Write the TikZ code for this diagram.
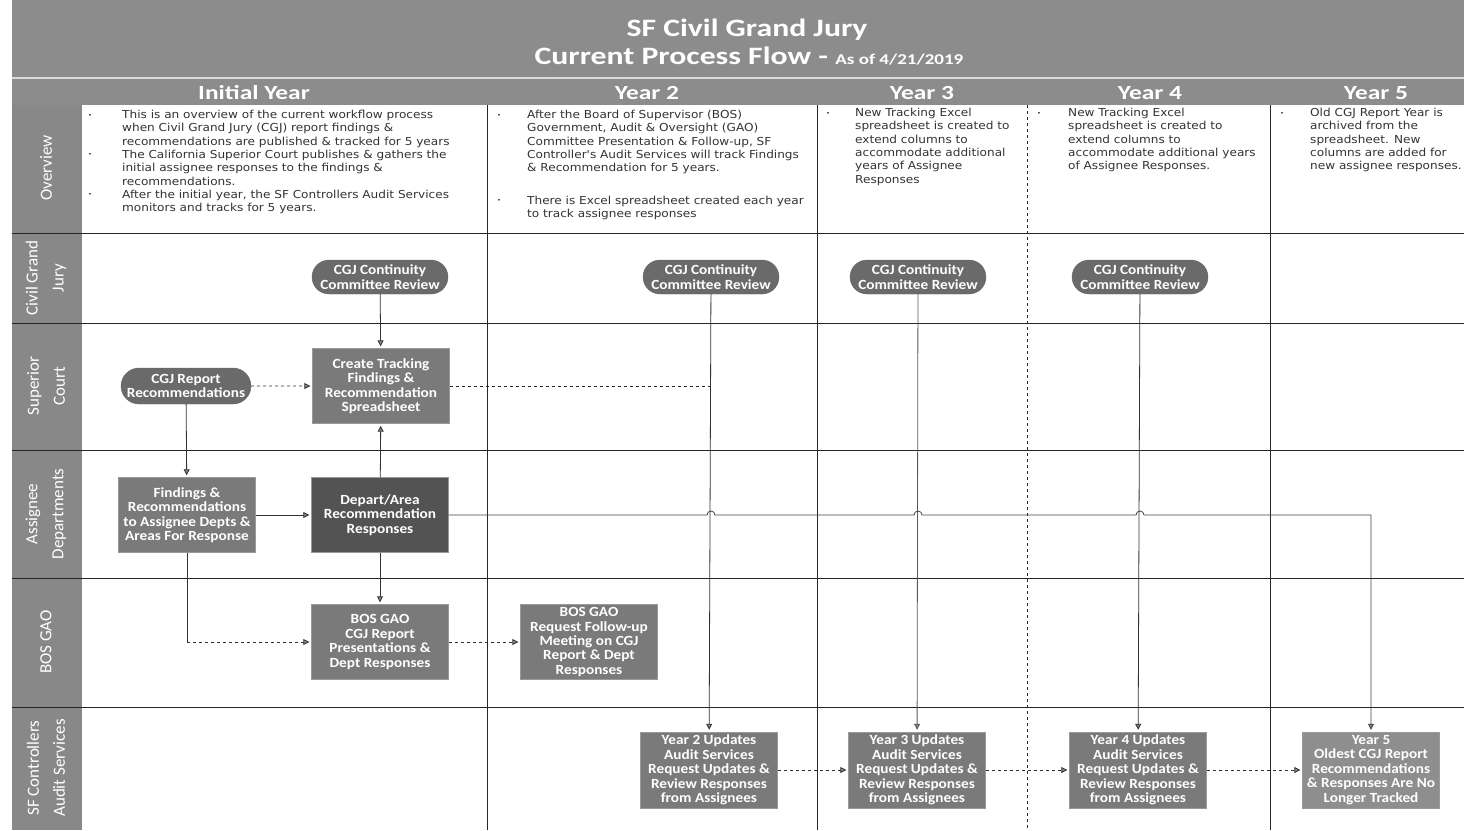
\documentclass[tikz,border=0pt]{standalone}
\usepackage{fontspec}
\setmainfont{Carlito}
\newfontfamily\ovfont{DejaVu Sans}[FakeStretch=1.1]
\newfontfamily\widefont{Carlito}[FakeStretch=1.27]
\newfontfamily\nodefont{Carlito}[FakeStretch=1.09]
\usetikzlibrary{shapes.misc,arrows.meta,calc}

\definecolor{bandgray}{HTML}{8C8C8C}
\definecolor{lanegray}{HTML}{888888}
\definecolor{pillgray}{HTML}{6A6A6A}
\definecolor{boxgray}{HTML}{7A7A7A}
\definecolor{darkbox}{HTML}{535353}
\definecolor{lightbox}{HTML}{8E8E8E}

\newcommand{\ovbul}{{\fontsize{6}{6}\selectfont\raisebox{1.5pt}{•}}}

\begin{document}
\begin{tikzpicture}[x=1pt,y=-1pt,
	lanetext/.style={rotate=90,text=white,font=\fontsize{17}{26}\selectfont,align=center},
	yeartext/.style={text=white,font=\widefont\fontsize{20}{20}\selectfont\bfseries},
	overview/.style={anchor=north west,inner sep=0pt,text=black!80,font=\ovfont\fontsize{11}{13.3}\selectfont},
	pill/.style={rounded rectangle,fill=pillgray,draw=black!60,text=white,align=center,
		font=\nodefont\fontsize{14}{14.5}\selectfont\bfseries,minimum width=138pt,minimum height=34pt,inner sep=1pt},
	stepbox/.style={rectangle,fill=boxgray,draw=black!40,text=white,align=center,
		font=\nodefont\fontsize{14}{14.5}\selectfont\bfseries,minimum width=137pt,minimum height=75pt,inner sep=1pt},
	flow/.style={-{Triangle[length=6pt,width=6pt,fill=gray]},draw=black!80,line width=0.8pt,shorten >=2pt},
	lane/.style={draw=black!85,line width=0.9pt}
	]
	
	\useasboundingbox (0,0) rectangle (1464,830);
	
	% bands
	\fill[bandgray] (12,0) rectangle (1464,105);
	\draw[white!85!black,line width=2pt] (12,78) -- (1464,78);
	\fill[lanegray] (12,105) rectangle (82,830);
	
	% titles
	\node[text=white,font=\widefont\fontsize{25}{25}\selectfont\bfseries] (title) at (747,30) {SF Civil Grand Jury};
	\node[text=white,font=\widefont\fontsize{25}{25}\selectfont\bfseries] (subtitle) at (749,56)
		{Current Process Flow - {\fontsize{15}{15}\selectfont As of 4/21/2019}};
	
	\node[yeartext] (yinit) at (254,93) {Initial Year};
	\node[yeartext] (ytwo) at (647,93) {Year 2};
	\node[yeartext] (ythree) at (922,93) {Year 3};
	\node[yeartext] (yfour) at (1150,93) {Year 4};
	\node[yeartext] (yfive) at (1376,93) {Year 5};
	
	% lane labels
	\node[lanetext] (lover) at (46,168) {Overview};
	\node[lanetext] (lcgj) at (46,278) {Civil Grand\\Jury};
	\node[lanetext] (lcourt) at (46,386) {Superior\\Court};
	\node[lanetext] (ldept) at (46,514) {Assignee\\Departments};
	\node[lanetext] (lbos) at (46,642) {BOS GAO};
	\node[lanetext] (laudit) at (46,768) {SF Controllers\\Audit Services};
	
	% lane and column lines
	\foreach \ly in {233,323,450,578,707}
		\draw[lane] (12,\ly) -- (1464,\ly);
	\foreach \cx in {487,817,1270}
		\draw[lane] (\cx,105) -- (\cx,830);
	\draw[lane,dashed] (1027,105) -- (1027,830);
	
	% overview texts
	\node[overview] (ovinit) at (88,109) {\begin{tabular}{@{}p{34pt}@{}l@{}}
		\ovbul & This is an overview of the current workflow process\\
		 & when Civil Grand Jury (CGJ) report findings \&\\
		 & recommendations are published \& tracked for 5 years\\
		\ovbul & The California Superior Court publishes \& gathers the\\
		 & initial assignee responses to the findings \&\\
		 & recommendations.\\
		\ovbul & After the initial year, the SF Controllers Audit Services\\
		 & monitors and tracks for 5 years.
		\end{tabular}};
	\node[overview] (ovtwo) at (497,109) {\begin{tabular}{@{}p{30pt}@{}l@{}}
		\ovbul & After the Board of Supervisor (BOS)\\
		 & Government, Audit \& Oversight (GAO)\\
		 & Committee Presentation \& Follow-up, SF\\
		 & Controller's Audit Services will track Findings\\
		 & \& Recommendation for 5 years.\\[19pt]
		\ovbul & There is Excel spreadsheet created each year\\
		 & to track assignee responses
		\end{tabular}};
	\node[overview] (ovthree) at (826,107) {\begin{tabular}{@{}p{29pt}@{}l@{}}
		\ovbul & New Tracking Excel\\
		 & spreadsheet is created to\\
		 & extend columns to\\
		 & accommodate additional\\
		 & years of Assignee\\
		 & Responses
		\end{tabular}};
	\node[overview] (ovfour) at (1037,107) {\begin{tabular}{@{}p{31pt}@{}l@{}}
		\ovbul & New Tracking Excel\\
		 & spreadsheet is created to\\
		 & extend columns to\\
		 & accommodate additional years\\
		 & of Assignee Responses.
		\end{tabular}};
	\node[overview] (ovfive) at (1280,107) {\begin{tabular}{@{}p{30pt}@{}l@{}}
		\ovbul & Old CGJ Report Year is\\
		 & archived from the\\
		 & spreadsheet. New\\
		 & columns are added for\\
		 & new assignee responses.
		\end{tabular}};
	
	% process nodes
	\node[pill] (cgjone) at (380,277) {CGJ Continuity\\Committee Review};
	\node[pill] (cgjtwo) at (711,277) {CGJ Continuity\\Committee Review};
	\node[pill] (cgjthree) at (918,277) {CGJ Continuity\\Committee Review};
	\node[pill] (cgjfour) at (1140,277) {CGJ Continuity\\Committee Review};
	
	\node[pill,minimum width=132pt,minimum height=36pt] (report) at (186,386) {CGJ Report\\Recommendations};
	\node[stepbox] (tracking) at (381,386) {Create Tracking\\Findings \&\\Recommendation\\Spreadsheet};
	
	\node[stepbox] (findings) at (187,515) {Findings \&\\Recommendations\\to Assignee Depts \&\\Areas For Response};
	\node[stepbox,fill=darkbox] (depart) at (380,515) {Depart/Area\\Recommendation\\Responses};
	
	\node[stepbox] (presnt) at (380,642) {BOS GAO\\CGJ Report\\Presentations \&\\Dept Responses};
	\node[stepbox] (followup) at (589,642) {BOS GAO\\Request Follow-up\\Meeting on CGJ\\Report \& Dept\\Responses};
	
	\node[stepbox,minimum height=76pt] (updtwo) at (709,770) {Year 2 Updates\\Audit Services\\Request Updates \&\\Review Responses\\from Assignees};
	\node[stepbox,minimum height=76pt] (updthree) at (917,770) {Year 3 Updates\\Audit Services\\Request Updates \&\\Review Responses\\from Assignees};
	\node[stepbox,minimum height=76pt] (updfour) at (1138,770) {Year 4 Updates\\Audit Services\\Request Updates \&\\Review Responses\\from Assignees};
	\node[stepbox,minimum height=76pt,fill=lightbox] (oldest) at (1371,770) {Year 5\\Oldest CGJ Report\\Recommendations\\\& Responses Are No\\Longer Tracked};
	
	% connectors
	\draw[flow] (cgjone) -- (tracking);
	\draw[flow,dashed] (report) -- (tracking);
	\draw[lane,dashed,line width=0.8pt] (tracking.east) -- (cgjtwo.south |- tracking.east);
	\draw[flow] (report) -- (findings);
	\draw[flow] (findings) -- (depart);
	\draw[flow] (depart) -- (tracking);
	\draw[flow] (depart) -- (presnt);
	\coordinate (turn) at (findings.south |- presnt.west);
	\draw[draw=black!80,line width=0.8pt] (findings.south) -- (turn);
	\draw[flow,dashed] (turn) -- (presnt.west);
	\draw[flow,dashed] (presnt) -- (followup);
	
	\draw[flow] (cgjtwo) -- (updtwo);
	\draw[flow,draw=black!65] (cgjthree) -- (updthree);
	\draw[flow] (cgjfour) -- (updfour);
	
	\draw[flow,dashed] (updtwo) -- (updthree);
	\draw[flow,dashed] (updthree) -- (updfour);
	\draw[flow,dashed] (updfour) -- (oldest);
	
	% long line with hops
	\draw[flow,draw=black!75] (depart.east)
		-- ($(cgjtwo.south |- depart.east)+(-4,0)$) arc[start angle=180,end angle=360,radius=4]
		-- ($(cgjthree.south |- depart.east)+(-4,0)$) arc[start angle=180,end angle=360,radius=4]
		-- ($(cgjfour.south |- depart.east)+(-4,0)$) arc[start angle=180,end angle=360,radius=4]
		-- (oldest.north |- depart.east) -- (oldest.north);
	
\end{tikzpicture}
\end{document}
